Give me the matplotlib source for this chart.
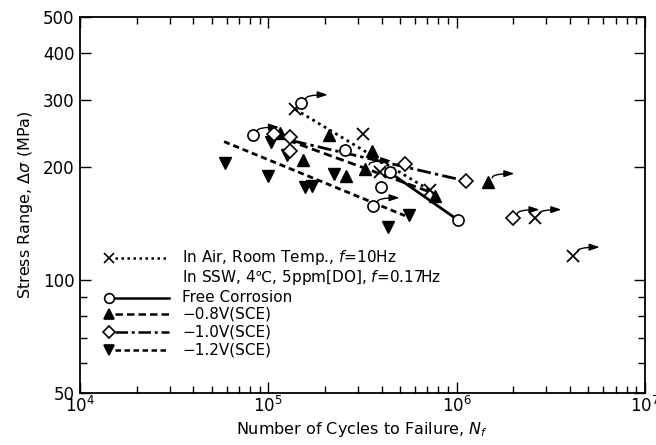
import numpy as np
import matplotlib
matplotlib.use('Agg')
import matplotlib.pyplot as plt
from matplotlib.transforms import offset_copy

plt.rcParams['font.family'] = ['DejaVu Sans', 'Noto Sans CJK JP']
plt.rcParams['mathtext.fontset'] = 'dejavusans'

# data (cycles, MPa)
air_n = [1.39e5, 3.17e5, 3.92e5, 7.2e5, 2.61e6, 4.17e6]
air_s = [284, 244, 194, 173, 146, 116]
air_runout = [False, False, False, False, True, True]
air_line_n = [1.39e5, 7.2e5]
air_line_s = [284, 173]

free_n = [8.26e4, 1.50e5, 2.55e5, 4.45e5, 3.95e5, 3.61e5, 1.02e6]
free_s = [242, 295, 221, 193, 176, 157, 144]
free_runout = [True, True, False, False, False, True, False]
free_line_n = [4.22e5, 1.02e6]
free_line_s = [196, 144]

m08_n = [1.153e5, 1.535e5, 2.10e5, 2.59e5, 3.26e5, 3.54e5, 7.68e5, 1.47e6]
m08_s = [245, 208, 243, 189, 197, 220, 167, 182]
m08_runout = [False, False, False, False, True, False, False, True]
m08_line_n = [1.27e5, 7.5e5]
m08_line_s = [235, 170]

m10_n = [1.066e5, 1.30e5, 1.31e5, 5.32e5, 1.12e6, 2.0e6]
m10_s = [244, 239, 220, 203, 183, 146]
m10_runout = [False, False, False, False, False, True]
m10_line_n = [1.35e5, 1.07e6]
m10_line_s = [234, 184]

m12_n = [5.89e4, 1.0e5, 1.03e5, 1.26e5, 1.567e5, 1.70e5, 2.23e5, 4.30e5, 5.61e5]
m12_s = [205, 189, 233, 215, 176, 178, 191, 138, 149]
m12_line_n = [5.82e4, 5.32e5]
m12_line_s = [233, 148]

fig = plt.figure(figsize=(6.56, 4.45), dpi=100)
ax = fig.add_axes([0.122, 0.117, 0.861, 0.845])
ax.set_xscale('log')
ax.set_yscale('log')
ax.set_xlim(1e4, 1e7)
ax.set_ylim(50, 500)

lw = 2.0
ms = 8
dot = (0, (1, 1.4))
dash_08 = (0, (3.0, 1.6))
dash_dot = (0, (5, 1.5, 1.2, 1.5))
dash_12 = (0, (2.2, 1.4))

ax.plot(air_line_n, air_line_s, color='k', lw=lw, ls=dot)
ax.plot(free_line_n, free_line_s, color='k', lw=lw, ls='-')
ax.plot(m08_line_n, m08_line_s, color='k', lw=lw, ls=dash_08)
ax.plot(m10_line_n, m10_line_s, color='k', lw=lw, ls=dash_dot)
ax.plot(m12_line_n, m12_line_s, color='k', lw=lw, ls=dash_12)

ax.plot(air_n, air_s, 'x', color='k', ms=ms, mew=1.3)
ax.plot(m12_n, m12_s, 'v', color='k', ms=ms, mec='k')
ax.plot(m08_n, m08_s, '^', color='k', ms=ms, mec='k')
ax.plot(m10_n, m10_s, 'D', mfc='white', mec='k', ms=7, mew=1.2)
ax.plot(free_n, free_s, 'o', mfc='white', mec='k', ms=ms, mew=1.2)


def runout(ns, ss, flags):
    for n, s, f in zip(ns, ss, flags):
        if not f:
            continue
        head = offset_copy(ax.transData, fig=fig, x=19, y=6, units='points')
        tail = offset_copy(ax.transData, fig=fig, x=3, y=3, units='points')
        ax.annotate('', xy=(n, s), xycoords=head, xytext=(n, s), textcoords=tail,
                    arrowprops=dict(arrowstyle='-|>,head_length=0.6,head_width=0.2',
                                    color='k', lw=1.0, shrinkA=0, shrinkB=0,
                                    connectionstyle='angle3,angleA=90,angleB=0'))


runout(air_n, air_s, air_runout)
runout(free_n, free_s, free_runout)
runout(m08_n, m08_s, m08_runout)
runout(m10_n, m10_s, m10_runout)

# legend drawn by hand in axes fraction
tr = ax.transAxes
rows = [
    ('x', 'k', dot, 'In Air, Room Temp., $f$=10Hz', 0.359),
    (None, None, None, 'In SSW, 4\u2103, 5ppm[DO], $f$=0.17Hz', 0.306),
    ('o', 'white', '-', 'Free Corrosion', 0.253),
    ('^', 'k', dash_08, '\u22120.8V(SCE)', 0.210),
    ('D', 'white', dash_dot, '\u22121.0V(SCE)', 0.162),
    ('v', 'k', dash_12, '\u22121.2V(SCE)', 0.114),
]
for mk, fc, ls, label, y in rows:
    if mk is not None:
        ax.plot([0.062, 0.158], [y, y], transform=tr, color='k', lw=1.8, ls=ls)
        ax.plot([0.051], [y], mk, transform=tr, color='k', mfc=fc, mec='k',
                ms=7 if mk != 'D' else 6, mew=1.2)
    ax.text(0.181, y, label, transform=tr, fontsize=11, va='center', ha='left')

ax.set_yticks([50, 100, 200, 300, 400, 500])
ax.set_yticks([60, 70, 80, 90], minor=True)
ax.set_yticklabels(['50', '100', '200', '300', '400', '500'], fontsize=12)
ax.yaxis.set_minor_formatter(matplotlib.ticker.NullFormatter())
ax.set_xticks([1e4, 1e5, 1e6, 1e7])
ax.set_xticklabels(['10$^4$', '10$^5$', '10$^6$', '10$^7$'], fontsize=12)
ax.xaxis.set_minor_locator(matplotlib.ticker.LogLocator(base=10, subs=np.arange(2, 10)))
ax.tick_params(which='both', direction='in', top=True, right=True, width=1.0)
ax.tick_params(which='major', length=8, pad=2)
ax.tick_params(axis='y', which='major', pad=4)
ax.tick_params(which='minor', length=5)
for sp in ax.spines.values():
    sp.set_linewidth(1.3)

ax.set_xlabel('Number of Cycles to Failure, $N_f$', fontsize=11.5, labelpad=3)
ax.set_ylabel('Stress Range, $\\Delta\\sigma$ (MPa)', fontsize=11.5, labelpad=6)

fig.savefig('out.png', dpi=100)
